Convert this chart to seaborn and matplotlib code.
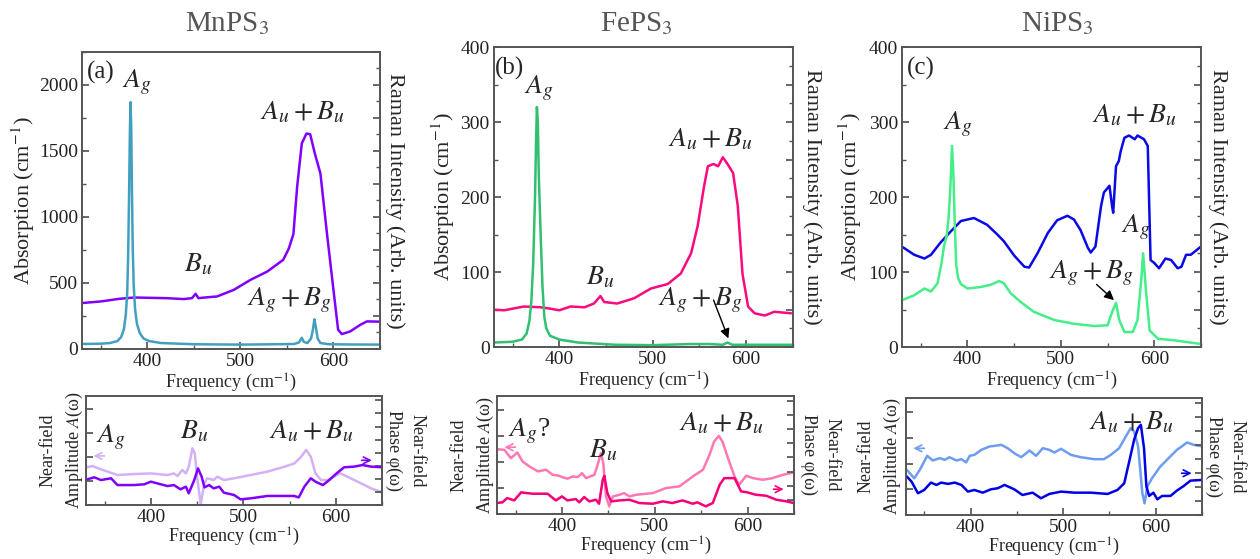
import numpy as np
import seaborn as sns
import matplotlib.pyplot as plt
from matplotlib.ticker import MultipleLocator, NullFormatter

sns.set_theme(style='ticks', rc={
    'xtick.direction': 'in', 'ytick.direction': 'in',
    'xtick.major.size': 5, 'ytick.major.size': 5,
    'xtick.minor.size': 3, 'ytick.minor.size': 3,
    'axes.edgecolor': '#555555', 'axes.linewidth': 1.2,
    'xtick.color': '#555555', 'ytick.color': '#555555',
    'xtick.labelcolor': '#222222', 'ytick.labelcolor': '#222222',
    'mathtext.fontset': 'stix',
})
plt.rcParams['font.family'] = ['Liberation Serif', 'DejaVu Serif']

# ---------------- data ----------------
# MnPS3 absorption (cm^-1)
mn_abs_f = [330, 350, 370, 386, 400, 421, 439, 448, 452, 455, 465, 475, 493, 511, 529, 546,
            552, 557, 561, 566, 571, 575, 580, 586, 593, 600, 605, 609, 618, 629, 636, 650]
mn_abs_v = [348, 360, 380, 390, 388, 385, 378, 385, 418, 385, 392, 398, 448, 524, 587, 675,
            760, 870, 1229, 1557, 1632, 1627, 1481, 1330, 877, 448, 146, 113, 133, 184, 209, 207]
# MnPS3 Raman
mn_ram_f = [330, 350, 360, 368, 372, 375, 377, 378.5, 379.5, 380.5, 381.3, 382, 382.8, 383.6,
            384.5, 385.5, 387, 389, 392, 396, 402, 415, 450, 500, 540, 558, 563, 566, 568, 572,
            576, 578, 579.5, 581, 583, 586, 595, 620, 650]
mn_ram_v = [38, 40, 45, 60, 90, 150, 260, 420, 700, 1150, 1600, 1870, 1700, 1200,
            750, 480, 300, 190, 120, 80, 60, 45, 36, 33, 36, 38, 50, 85, 55, 45,
            80, 150, 225, 170, 80, 45, 36, 34, 33]

# FePS3 absorption
fe_abs_f = [328, 341, 362, 380, 391, 400, 412, 427, 437, 444, 448, 462, 480, 498, 516, 530,
            541, 548, 555, 559, 565, 570, 575, 580, 586, 591, 596, 602, 609, 620, 630, 648]
fe_abs_v = [50, 49, 54, 53, 51, 49, 54, 53, 58, 68, 60, 58, 65, 78, 84, 98,
            125, 161, 215, 241, 244, 241, 253, 244, 232, 188, 98, 54, 45, 42, 47, 45]
# FePS3 Raman
fe_ram_f = [330, 350, 360, 365, 368, 370, 372, 374, 375, 376, 377, 378, 380, 382, 384, 386,
            390, 400, 420, 460, 500, 540, 560, 575, 580, 585, 620, 650]
fe_ram_v = [6, 7, 10, 18, 35, 60, 110, 200, 270, 320, 300, 230, 150, 80, 40, 25,
            15, 10, 6, 3, 2.5, 4, 4, 3, 6, 3, 3, 3]

# NiPS3 absorption
ni_abs_f = [331, 343, 354, 361, 371, 382, 393, 407, 421, 432, 439, 450, 461, 466, 475, 486,
            496, 507, 514, 521, 529, 532, 537, 543, 546, 552, 555, 556, 559, 562, 564, 568,
            573, 579, 582, 589, 593, 596, 600, 605, 612, 618, 625, 629, 634, 639, 650]
ni_abs_v = [133, 123, 118, 123, 139, 154, 168, 172, 163, 150, 141, 122, 107, 106, 125, 152,
            169, 175, 170, 156, 132, 126, 134, 188, 206, 215, 186, 179, 241, 248, 261, 279,
            282, 277, 282, 277, 268, 116, 112, 105, 118, 116, 105, 107, 123, 123, 134]
# NiPS3 Raman
ni_ram_f = [331, 343, 354, 361, 368, 372, 375, 378, 380, 382, 383.5, 385, 386.5, 388, 390,
            393, 400, 414, 425, 434, 439, 446, 457, 471, 493, 514, 536, 550, 555, 559,
            562.5, 568, 577, 582, 586, 588, 591, 595, 604, 621, 650]
ni_ram_v = [63, 69, 78, 74, 85, 110, 135, 150, 175, 220, 268, 230, 160, 110, 92,
            84, 78, 80, 83, 88, 85, 72, 60, 47, 36, 31, 28, 29, 47, 59,
            36, 20, 20, 36, 89, 125, 76, 22, 11, 9, 4]

# near-field amplitude / phase (fraction of panel height)
mn_amp_f = [331, 337, 346, 364, 382, 400, 418, 425, 429, 434, 438, 441, 445, 447.6, 450, 454,
            458, 461, 468, 472, 479, 490, 508, 526, 544, 555, 562, 568, 573, 578, 584, 591,
            598, 605, 616, 627, 638, 651]
mn_amp_v = [0.346, 0.358, 0.327, 0.275, 0.284, 0.29, 0.275, 0.29, 0.266, 0.321, 0.29, 0.35,
            0.52, 0.474, 0.26, 0.01, 0.2, 0.245, 0.229, 0.26, 0.229, 0.245, 0.275, 0.306,
            0.35, 0.38, 0.437, 0.505, 0.443, 0.29, 0.229, 0.229, 0.26, 0.29, 0.245, 0.2,
            0.153, 0.113]
mn_pha_f = [331, 339, 346, 357, 364, 382, 393, 400, 418, 425, 432, 438, 441, 447, 451, 455,
            458, 463, 468, 474, 479, 490, 497, 508, 526, 544, 555, 560, 566, 573, 578, 586,
            593, 600, 609, 620, 629, 638, 651]
mn_pha_v = [0.235, 0.254, 0.229, 0.245, 0.183, 0.183, 0.19, 0.214, 0.174, 0.183, 0.144,
            0.168, 0.107, 0.229, 0.336, 0.26, 0.162, 0.183, 0.153, 0.168, 0.113, 0.092,
            0.052, 0.061, 0.083, 0.083, 0.083, 0.07, 0.168, 0.245, 0.214, 0.183, 0.229,
            0.284, 0.346, 0.352, 0.367, 0.352, 0.346]

fe_amp_f = [329.5, 338, 345, 352, 357.6, 365, 374, 383, 390, 397, 400, 406, 411.5, 417,
            421.6, 426, 435, 438.5, 442, 444.6, 447.5, 451, 455, 462, 467, 472.7, 480, 498,
            512, 526.6, 541, 552, 559, 564, 569, 573, 579, 586, 591, 598.6, 606, 616.5, 627,
            638, 649.6]
fe_amp_v = [0.549, 0.544, 0.473, 0.521, 0.445, 0.403, 0.361, 0.375, 0.332, 0.324, 0.313,
            0.299, 0.318, 0.313, 0.346, 0.304, 0.332, 0.417, 0.515, 0.431, 0.149, 0.065,
            0.149, 0.163, 0.177, 0.149, 0.163, 0.177, 0.22, 0.234, 0.318, 0.375, 0.501,
            0.614, 0.662, 0.614, 0.473, 0.318, 0.248, 0.324, 0.304, 0.29, 0.304, 0.332, 0.352]
fe_pha_f = [329.5, 336, 341, 348.6, 356, 368, 384.5, 393.5, 400, 406, 415, 418.7, 424,
            429.5, 436.7, 440, 444, 445.7, 449, 453, 462, 472.7, 483.5, 498, 508.6, 519,
            530, 541, 546, 555, 562.6, 570, 575, 586, 593, 600, 609, 620, 631, 642, 649.6]
fe_pha_v = [0.093, 0.099, 0.135, 0.115, 0.183, 0.172, 0.172, 0.115, 0.149, 0.115, 0.127,
            0.099, 0.144, 0.107, 0.121, 0.087, 0.29, 0.324, 0.177, 0.107, 0.115, 0.121,
            0.093, 0.087, 0.107, 0.093, 0.115, 0.087, 0.099, 0.065, 0.093, 0.248, 0.304,
            0.304, 0.192, 0.183, 0.163, 0.155, 0.121, 0.107, 0.093]

ni_amp_f = [331, 339, 345, 353, 359, 366.6, 372, 377, 384.6, 390, 395, 399, 404, 411.5,
            420.5, 426, 433, 440, 447, 454.6, 463.6, 470.7, 478, 485, 490.5, 497.7, 508.4,
            519, 533.6, 544, 551.5, 560.5, 567.7, 573, 576.7, 581, 585.6, 588, 591, 596,
            605, 614, 623, 634, 641, 651]
ni_amp_v = [0.386, 0.314, 0.386, 0.506, 0.466, 0.486, 0.471, 0.494, 0.466, 0.477, 0.449,
            0.506, 0.514, 0.557, 0.586, 0.591, 0.6, 0.571, 0.529, 0.494, 0.551, 0.506,
            0.571, 0.557, 0.534, 0.566, 0.514, 0.494, 0.477, 0.477, 0.514, 0.571, 0.671,
            0.743, 0.714, 0.586, 0.186, 0.1, 0.243, 0.314, 0.414, 0.486, 0.557, 0.62, 0.6,
            0.586]
ni_pha_f = [331, 336, 343, 349.7, 357, 363, 368, 375.6, 382.8, 390, 397, 404, 413, 422,
            429.4, 436.6, 447, 456, 467, 476, 485, 497.7, 512, 530, 548, 558.7, 566, 571,
            576.7, 581, 584, 587.4, 590, 593, 597.5, 601.8, 607, 616, 623, 630.5, 637.7, 651]
ni_pha_v = [0.329, 0.286, 0.186, 0.214, 0.277, 0.257, 0.277, 0.266, 0.277, 0.257, 0.2,
            0.214, 0.191, 0.22, 0.229, 0.257, 0.22, 0.171, 0.191, 0.143, 0.18, 0.2, 0.191,
            0.191, 0.18, 0.214, 0.271, 0.443, 0.643, 0.743, 0.771, 0.571, 0.243, 0.163,
            0.191, 0.134, 0.163, 0.163, 0.209, 0.249, 0.294, 0.3]

titles = ['MnPS$_3$', 'FePS$_3$', 'NiPS$_3$']
panel_tags = ['(a)', '(b)', '(c)']

# ---------------- figure ----------------
fig = plt.figure(figsize=(12.6, 5.59), dpi=100)

top_rects = [[0.0651, 0.3757, 0.2365, 0.5313],
             [0.3920, 0.3792, 0.2373, 0.5367],
             [0.7159, 0.3792, 0.2373, 0.5367]]
bot_rects = [[0.0683, 0.0966, 0.2349, 0.1950],
             [0.3944, 0.0805, 0.2357, 0.2111],
             [0.7190, 0.0787, 0.2349, 0.2093]]
title_x = [0.180, 0.505, 0.839]

top_data = [
    (mn_abs_f, mn_abs_v, '#8000ff', mn_ram_f, mn_ram_v, '#41a0c0', 2250, 500, 250, 125),
    (fe_abs_f, fe_abs_v, '#fa0a7d', fe_ram_f, fe_ram_v, '#30c070', 400, 100, 50, 25),
    (ni_abs_f, ni_abs_v, '#0a0ae6', ni_ram_f, ni_ram_v, '#44ee88', 400, 100, 50, 25),
]
bot_data = [
    (mn_amp_f, mn_amp_v, '#d4b0f7', mn_pha_f, mn_pha_v, '#8000ff'),
    (fe_amp_f, fe_amp_v, '#ff78b4', fe_pha_f, fe_pha_v, '#f5007a'),
    (ni_amp_f, ni_amp_v, '#6e9cf0', ni_pha_f, ni_pha_v, '#0000e6'),
]
left_lab_x = [-0.198, -0.17, -0.174]
right_lab_x = [1.05, 1.064, 1.057]
bl_lab_x = [-0.081, -0.081, -0.088]
br_lab_x = [1.078, 1.088, 1.078]

top_axes = []
for i in range(3):
    fa, va, ca, fr, vr, cr, ymax, maj, mnr, rt = top_data[i]
    ax = fig.add_axes(top_rects[i])
    ax2 = ax.twinx()
    sns.lineplot(x=fa, y=va, ax=ax, color=ca, linewidth=1.8)
    sns.lineplot(x=fr, y=vr, ax=ax2, color=cr, linewidth=1.8)
    for a in (ax, ax2):
        a.set_xlim(330, 650)
        a.set_ylim(0, ymax)
    ax.xaxis.set_major_locator(MultipleLocator(100))
    ax.xaxis.set_minor_locator(MultipleLocator(50))
    ax.yaxis.set_major_locator(MultipleLocator(maj))
    ax.yaxis.set_minor_locator(MultipleLocator(mnr))
    ax2.yaxis.set_major_locator(MultipleLocator(rt * 2))
    ax2.yaxis.set_minor_locator(MultipleLocator(rt))
    ax2.yaxis.set_major_formatter(NullFormatter())
    ax.tick_params(labelsize=14, pad=3)
    ax.set_xlabel('Frequency (cm$^{-1}$)', fontsize=13, labelpad=1)
    ax.set_ylabel('Absorption (cm$^{-1}$)', fontsize=16, va='center')
    ax.yaxis.set_label_coords(left_lab_x[i], 0.5)
    ax2.set_ylabel('Raman Intensity (Arb. units)', fontsize=16, rotation=270, va='center')
    ax2.yaxis.set_label_coords(right_lab_x[i], 0.5)
    ax.text(335 if i != 1 else 331, ymax * 0.93, panel_tags[i], fontsize=18, va='center')
    fig.text(title_x[i], 0.945, titles[i], fontsize=21, color='#555555', ha='center')
    top_axes.append(ax)

for i in range(3):
    fa, va, ca, fp, vp, cp = bot_data[i]
    ax = fig.add_axes(bot_rects[i])
    ax2 = ax.twinx()
    sns.lineplot(x=fa, y=va, ax=ax, color=ca, linewidth=1.8)
    sns.lineplot(x=fp, y=vp, ax=ax2, color=cp, linewidth=1.8)
    for a in (ax, ax2):
        a.set_xlim(330, 650)
        a.set_ylim(0, 1)
    ax.xaxis.set_major_locator(MultipleLocator(100))
    ax.xaxis.set_minor_locator(MultipleLocator(50))
    ax.yaxis.set_major_locator(MultipleLocator(0.22))
    ax.yaxis.set_major_formatter(NullFormatter())
    ax2.yaxis.set_major_locator(MultipleLocator(0.12))
    ax2.yaxis.set_major_formatter(NullFormatter())
    ax.tick_params(labelsize=14, pad=3)
    ax.set_xlabel('Frequency (cm$^{-1}$)', fontsize=13, labelpad=0)
    ax.set_ylabel('Near-field\nAmplitude $A$(ω)', fontsize=13, linespacing=1.5,
                  va='center', ha='center')
    ax.yaxis.set_label_coords(bl_lab_x[i], 0.5)
    ax2.set_ylabel('Near-field\nPhase φ(ω)', fontsize=13, rotation=270, va='center',
                   ha='center', linespacing=1.5)
    ax2.yaxis.set_label_coords(br_lab_x[i], 0.5)
    # direction arrows
    ya = [0.45, 0.566, 0.57][i]
    yb = [0.41, 0.21, 0.357][i]
    ax.annotate('', xy=(335, ya), xytext=(353, ya),
                arrowprops=dict(arrowstyle='->', color=ca, lw=1.2))
    ax2.annotate('', xy=(642, yb), xytext=(625, yb),
                 arrowprops=dict(arrowstyle='->', color=cp, lw=1.2))
    if i == 0:
        ax.text(341, 0.62, '$A_g$', fontsize=20, va='center')
        ax.text(432, 0.67, '$B_u$', fontsize=20, va='center')
        ax.text(573, 0.67, '$A_u + B_u$', fontsize=20, va='center', ha='center')
    elif i == 1:
        ax.text(342, 0.70, '$A_g$?', fontsize=20, va='center')
        ax.text(429, 0.54, '$B_u$', fontsize=20, va='center')
        ax.text(572, 0.77, '$A_u + B_u$', fontsize=20, va='center', ha='center')
    else:
        ax.text(574, 0.79, '$A_u + B_u$', fontsize=20, va='center', ha='center')

# top-panel mode labels
ax = top_axes[0]
ax.text(373, 2020, '$A_g$', fontsize=20, va='center')
ax.text(440, 640, '$B_u$', fontsize=20, va='center')
ax.text(567, 1790, '$A_u + B_u$', fontsize=20, va='center', ha='center')
ax.text(552, 370, '$A_g + B_g$', fontsize=20, va='center', ha='center')

ax = top_axes[1]
ax.text(362, 345, '$A_g$', fontsize=20, va='center')
ax.text(429, 92, '$B_u$', fontsize=20, va='center')
ax.text(562, 277, '$A_u + B_u$', fontsize=20, va='center', ha='center')
ax.text(551, 62, '$A_g + B_g$', fontsize=20, va='center', ha='center')
ax.annotate('', xy=(582, 8), xytext=(564, 66),
            arrowprops=dict(arrowstyle='-|>', color='black', lw=1, mutation_scale=14))

ax = top_axes[2]
ax.text(374, 297, '$A_g$', fontsize=20, va='center')
ax.text(579, 308, '$A_u + B_u$', fontsize=20, va='center', ha='center')
ax.text(564, 160, '$A_g$', fontsize=20, va='center')
ax.text(533, 98, '$A_g + B_g$', fontsize=20, va='center', ha='center')
ax.annotate('', xy=(559, 60), xytext=(536, 86),
            arrowprops=dict(arrowstyle='-|>', color='black', lw=1, mutation_scale=14))

fig.savefig('out.png', dpi=100)
